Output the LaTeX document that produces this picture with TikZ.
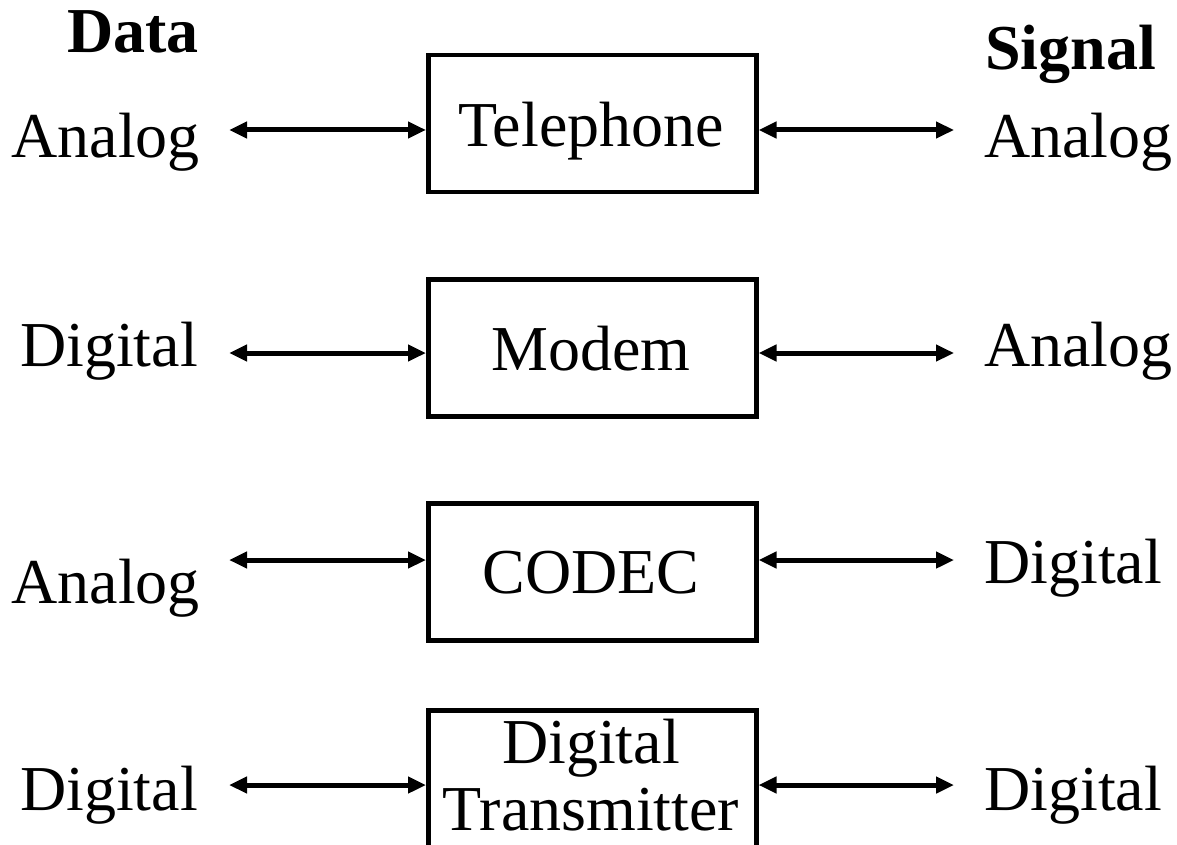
\documentclass[tikz,border=0pt]{standalone}
\usepackage{fontspec}
\setmainfont{Liberation Serif}
\usetikzlibrary{arrows.meta}
\begin{document}
\begin{tikzpicture}[x=1pt,y=-1pt,
  lbl/.style={font=\fontsize{64}{70}\selectfont, inner sep=0pt, anchor=base},
  lft/.style={lbl, anchor=base east},
  rgt/.style={lbl, anchor=base west},
  hdr/.style={lbl, font=\fontsize{64}{70}\selectfont\bfseries},
  unit/.style={draw, line width=4.5pt, minimum width=328pt, minimum height=137pt, inner sep=0pt, anchor=north west},
  link/.style={line width=5pt, {Triangle[length=18pt,width=16pt]}-{Triangle[length=18pt,width=16pt]}}]
\useasboundingbox (0,0) rectangle (1177,845);
\fill[white] (0,0) rectangle (1177,845);

% column headers
\node[hdr, anchor=base east] (hdata) at (199,53) {Data};
\node[hdr, anchor=base west] (hsig) at (985,70) {Signal};

% boxes
\node[unit] (tel) at (426,53) {};
\node[unit] (mod) at (426,277) {};
\node[unit] (cod) at (426,501) {};
\node[unit, minimum height=150pt] (dtx) at (426,708) {};

% box captions
\node[lbl] (telt) at (591,147) {Telephone};
\node[lbl] (modt) at (591,370) {Modem};
\node[lbl] (codt) at (591,593) {CODEC};
\node[lbl] (dtx1) at (591,763) {Digital};
\node[lbl] (dtx2) at (591,830) {Transmitter};

% data side
\node[lft] (d1) at (200,158) {Analog};
\node[lft] (d2) at (198,366) {Digital};
\node[lft] (d3) at (200,603) {Analog};
\node[lft] (d4) at (198,810) {Digital};

% signal side
\node[rgt] (s1) at (984,158) {Analog};
\node[rgt] (s2) at (984,366) {Analog};
\node[rgt] (s3) at (984,583) {Digital};
\node[rgt] (s4) at (984,810) {Digital};

% arrow end points
\coordinate (a1) at (229,130); \coordinate (b1) at (954,130);
\coordinate (a2) at (229,353); \coordinate (b2) at (954,353);
\coordinate (a3) at (229,560); \coordinate (b3) at (954,560);
\coordinate (a4) at (229,785); \coordinate (b4) at (954,785);

\draw[link] (a1) -- (a1 -| tel.west);
\draw[link] (tel.east |- b1) -- (b1);
\draw[link] (a2) -- (a2 -| mod.west);
\draw[link] (mod.east |- b2) -- (b2);
\draw[link] (a3) -- (a3 -| cod.west);
\draw[link] (cod.east |- b3) -- (b3);
\draw[link] (a4) -- (a4 -| dtx.west);
\draw[link] (dtx.east |- b4) -- (b4);
\end{tikzpicture}
\end{document}
